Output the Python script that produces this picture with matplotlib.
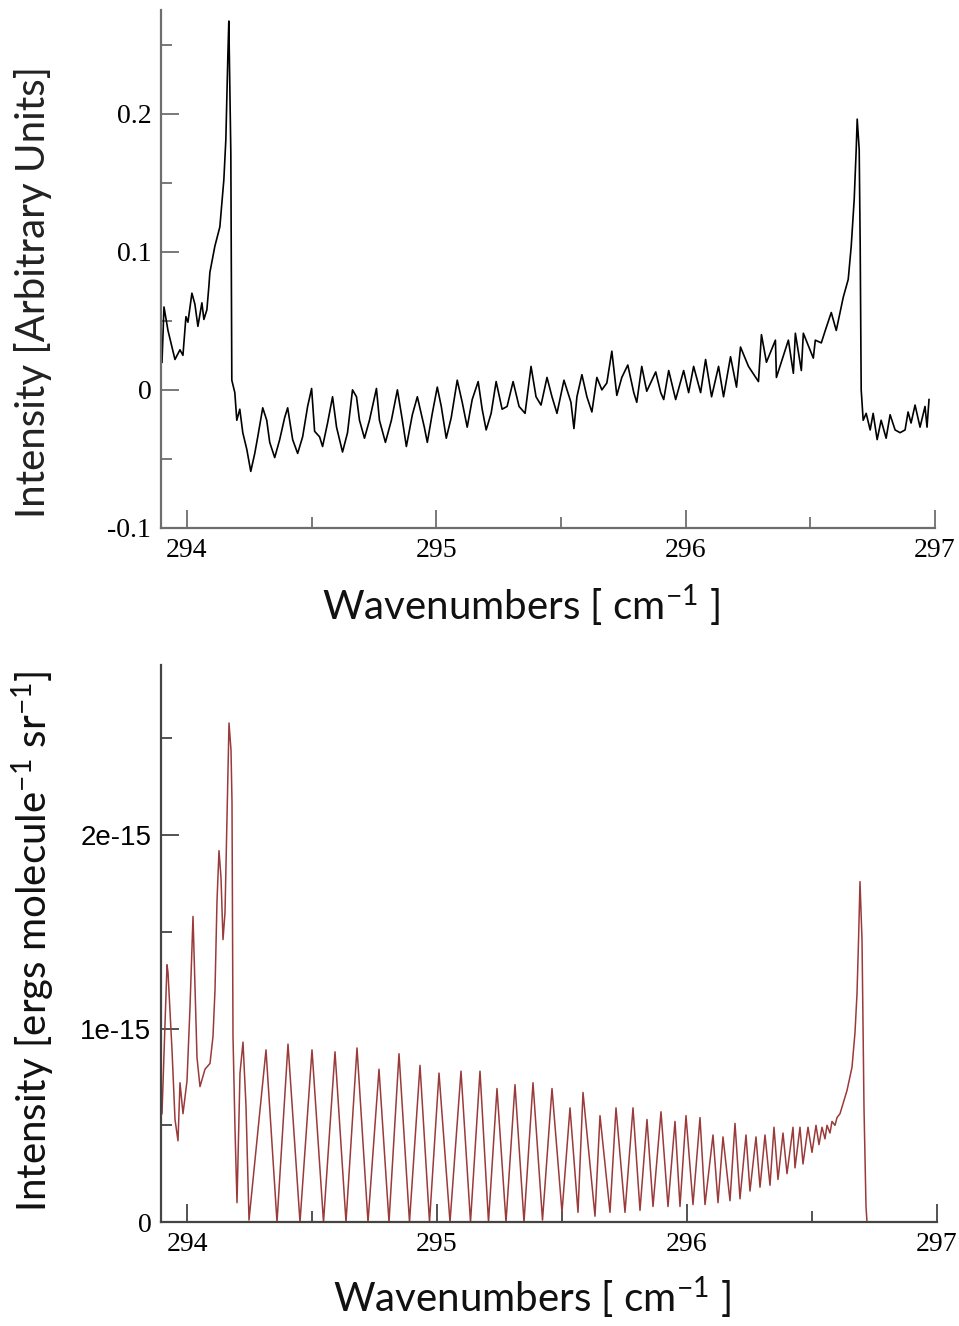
import matplotlib
matplotlib.use("Agg")
import matplotlib.pyplot as plt
from matplotlib.ticker import FixedLocator

# measured spectrum (top panel), wavenumber [cm-1] / intensity [arb. units]
meas_wn = [
    293.900, 293.908, 293.924, 293.940, 293.952, 293.972, 293.984, 293.996, 294.004, 294.020,
    294.032, 294.044, 294.060, 294.068, 294.080, 294.088, 294.092, 294.112, 294.132, 294.148,
    294.156, 294.164, 294.168, 294.176, 294.180, 294.192, 294.200, 294.212, 294.224, 294.240,
    294.256, 294.272, 294.284, 294.304, 294.320, 294.332, 294.352, 294.372, 294.392, 294.404,
    294.424, 294.444, 294.464, 294.484, 294.500, 294.512, 294.532, 294.544, 294.564, 294.584,
    294.600, 294.624, 294.644, 294.664, 294.680, 294.692, 294.712, 294.732, 294.760, 294.772,
    294.796, 294.820, 294.844, 294.864, 294.880, 294.904, 294.924, 294.952, 294.964, 294.984,
    295.004, 295.020, 295.040, 295.060, 295.084, 295.104, 295.124, 295.144, 295.168, 295.184,
    295.200, 295.220, 295.240, 295.264, 295.284, 295.308, 295.332, 295.356, 295.380, 295.400,
    295.420, 295.444, 295.464, 295.484, 295.512, 295.540, 295.552, 295.564, 295.584, 295.604,
    295.624, 295.644, 295.664, 295.684, 295.704, 295.724, 295.744, 295.768, 295.792, 295.804,
    295.824, 295.844, 295.880, 295.900, 295.912, 295.932, 295.960, 295.992, 296.012, 296.032,
    296.060, 296.080, 296.104, 296.132, 296.152, 296.180, 296.204, 296.220, 296.252, 296.292,
    296.304, 296.324, 296.360, 296.364, 296.412, 296.432, 296.440, 296.464, 296.472, 296.512,
    296.520, 296.544, 296.560, 296.584, 296.604, 296.632, 296.652, 296.664, 296.676, 296.684,
    296.688, 296.696, 296.700, 296.704, 296.712, 296.724, 296.740, 296.752, 296.768, 296.784,
    296.804, 296.820, 296.840, 296.860, 296.880, 296.892, 296.904, 296.920, 296.940, 296.960,
    296.968, 296.976,
]
meas_int = [
    0.020, 0.060, 0.043, 0.031, 0.022, 0.029, 0.025, 0.053, 0.049, 0.070,
    0.062, 0.046, 0.063, 0.051, 0.058, 0.075, 0.085, 0.104, 0.118, 0.152,
    0.181, 0.241, 0.267, 0.172, 0.007, -0.002, -0.022, -0.014, -0.031, -0.043,
    -0.059, -0.046, -0.034, -0.013, -0.022, -0.038, -0.049, -0.036, -0.020, -0.013,
    -0.036, -0.046, -0.034, -0.012, 0.001, -0.030, -0.034, -0.041, -0.024, -0.005,
    -0.027, -0.045, -0.031, 0.000, -0.005, -0.022, -0.035, -0.022, 0.001, -0.022,
    -0.038, -0.022, 0.000, -0.022, -0.041, -0.018, -0.005, -0.027, -0.038, -0.017,
    0.002, -0.012, -0.035, -0.020, 0.007, -0.009, -0.027, -0.007, 0.006, -0.014,
    -0.029, -0.017, 0.006, -0.014, -0.012, 0.006, -0.012, -0.017, 0.017, -0.005,
    -0.011, 0.009, -0.005, -0.017, 0.007, -0.009, -0.028, -0.005, 0.011, -0.005,
    -0.016, 0.009, 0.000, 0.005, 0.028, -0.004, 0.009, 0.018, -0.002, -0.009,
    0.017, -0.001, 0.013, -0.002, -0.007, 0.014, -0.007, 0.014, -0.002, 0.017,
    -0.002, 0.022, -0.005, 0.017, -0.005, 0.024, 0.002, 0.031, 0.017, 0.006,
    0.040, 0.020, 0.036, 0.009, 0.036, 0.012, 0.041, 0.014, 0.041, 0.023,
    0.036, 0.034, 0.043, 0.056, 0.043, 0.067, 0.080, 0.104, 0.138, 0.174,
    0.196, 0.174, 0.104, 0.000, -0.022, -0.017, -0.029, -0.017, -0.036, -0.022,
    -0.035, -0.018, -0.029, -0.031, -0.029, -0.016, -0.024, -0.011, -0.027, -0.012,
    -0.027, -0.007,
]

# model spectrum (bottom panel), intensity in units of 1e-15 ergs/molecule/sr
model_wn = [
    293.900, 293.920, 293.924, 293.940, 293.952, 293.964, 293.972, 293.984, 294.000, 294.012,
    294.024, 294.040, 294.052, 294.072, 294.092, 294.104, 294.112, 294.120, 294.128, 294.136,
    294.144, 294.152, 294.160, 294.168, 294.176, 294.180, 294.184, 294.192, 294.200, 294.212,
    294.224, 294.236, 294.248, 294.316, 294.360, 294.404, 294.452, 294.500, 294.546, 294.592,
    294.636, 294.680, 294.724, 294.768, 294.808, 294.848, 294.890, 294.932, 294.970, 295.008,
    295.052, 295.096, 295.134, 295.172, 295.206, 295.240, 295.276, 295.312, 295.348, 295.384,
    295.422, 295.460, 295.500, 295.532, 295.564, 295.584, 295.632, 295.652, 295.692, 295.716,
    295.752, 295.784, 295.812, 295.840, 295.864, 295.896, 295.924, 295.952, 295.972, 295.996,
    296.024, 296.052, 296.072, 296.104, 296.124, 296.144, 296.172, 296.192, 296.212, 296.236,
    296.252, 296.276, 296.292, 296.312, 296.332, 296.348, 296.364, 296.384, 296.400, 296.424,
    296.432, 296.452, 296.464, 296.484, 296.500, 296.516, 296.528, 296.540, 296.552, 296.560,
    296.572, 296.580, 296.592, 296.600, 296.612, 296.640, 296.660, 296.672, 296.680, 296.686,
    296.692, 296.700, 296.708, 296.716, 296.720,
]
model_int = [
    0.56, 1.33, 1.29, 0.89, 0.53, 0.42, 0.72, 0.56, 0.73, 1.11,
    1.58, 0.85, 0.70, 0.79, 0.82, 0.96, 1.20, 1.66, 1.92, 1.78,
    1.46, 1.60, 2.09, 2.58, 2.44, 2.17, 0.96, 0.48, 0.10, 0.77,
    0.93, 0.60, 0.01, 0.89, 0.00, 0.92, 0.00, 0.89, 0.00, 0.88,
    0.00, 0.90, 0.00, 0.79, 0.00, 0.87, 0.00, 0.81, 0.00, 0.77,
    0.00, 0.78, 0.00, 0.78, 0.00, 0.69, 0.00, 0.71, 0.00, 0.72,
    0.01, 0.69, 0.05, 0.59, 0.05, 0.67, 0.03, 0.55, 0.05, 0.59,
    0.05, 0.59, 0.06, 0.53, 0.08, 0.57, 0.08, 0.52, 0.08, 0.55,
    0.09, 0.54, 0.09, 0.45, 0.10, 0.44, 0.11, 0.51, 0.12, 0.45,
    0.16, 0.44, 0.18, 0.45, 0.19, 0.49, 0.22, 0.46, 0.25, 0.49,
    0.28, 0.49, 0.30, 0.49, 0.36, 0.50, 0.40, 0.49, 0.43, 0.50,
    0.46, 0.52, 0.50, 0.54, 0.56, 0.68, 0.80, 0.98, 1.18, 1.45,
    1.76, 1.46, 0.59, 0.08, 0.00,
]

x_major = [294, 295, 296, 297]
x_minor = [294.5, 295.5, 296.5]
x_labels = ["294", "295", "296", "297"]

top_y_major = [-0.1, 0.0, 0.1, 0.2]
top_y_minor = [-0.05, 0.05, 0.15, 0.25]
top_y_labels = ["-0.1", "0", "0.1", "0.2"]

bot_y_major = [0.0, 1e-15, 2e-15]
bot_y_minor = [0.5e-15, 1.5e-15, 2.5e-15]
bot_y_labels = ["0", "1e-15", "2e-15"]

W, H = 959, 1326
SERIF = "Liberation Serif"
SANS = "Liberation Sans"
LABEL = "Lato"


def style_axes(ax, spine_col):
    for s in ("top", "right"):
        ax.spines[s].set_visible(False)
    for s in ("left", "bottom"):
        ax.spines[s].set_color(spine_col)
        ax.spines[s].set_linewidth(1.6)
    ax.tick_params(which="major", direction="in", length=13, width=1.3,
                   color=spine_col, pad=7, labelsize=20)
    ax.tick_params(which="minor", direction="in", length=8, width=1.3,
                   color=spine_col)
    ax.xaxis.set_major_locator(FixedLocator(x_major))
    ax.xaxis.set_minor_locator(FixedLocator(x_minor))
    ax.set_xticklabels(x_labels, fontfamily=SERIF)
    ax.set_xlim(293.896, 297.0)


fig = plt.figure(figsize=(W / 100, H / 100), dpi=100)

# top: measured
ax1 = fig.add_axes([161 / W, 1 - 528 / H, (935 - 161) / W, (528 - 10) / H])
ax1.plot(meas_wn, meas_int, color="black", lw=1.2)
style_axes(ax1, "#6e6e6e")
ax1.set_ylim(-0.1, 0.275)
ax1.yaxis.set_major_locator(FixedLocator(top_y_major))
ax1.yaxis.set_minor_locator(FixedLocator(top_y_minor))
ax1.set_yticklabels(top_y_labels, fontfamily=SERIF)

# bottom: model
ax2 = fig.add_axes([161 / W, 1 - 1222 / H, (937 - 161) / W, (1222 - 665) / H])
ax2.plot(model_wn, [v * 1e-15 for v in model_int], color="#9a3a3a", lw=1.1)
style_axes(ax2, "#444444")
ax2.set_ylim(0, 2.88e-15)
ax2.yaxis.set_major_locator(FixedLocator(bot_y_major))
ax2.yaxis.set_minor_locator(FixedLocator(bot_y_minor))
ax2.set_yticklabels(bot_y_labels, fontfamily=SANS)
ax2.get_yticklabels()[0].set_fontfamily(SERIF)

# axis titles
xl = "Wavenumbers [ cm$\\mathregular{^{-1}}$ ]"
fig.text(521 / W, 1 - 606 / H, xl, ha="center", va="center",
         fontsize=29, family=LABEL, color="#111111")
fig.text(532 / W, 1 - 1298 / H, xl, ha="center", va="center",
         fontsize=29, family=LABEL, color="#111111")
fig.text(33 / W, 1 - 292 / H, "Intensity [Arbitrary Units]", rotation=90,
         ha="center", va="center", fontsize=29, family=LABEL, color="#222222")
fig.text(33 / W, 1 - 941 / H,
         "Intensity [ergs molecule$\\mathregular{^{-1}}$ sr$\\mathregular{^{-1}}$]",
         rotation=90, ha="center", va="center", fontsize=29, family=LABEL,
         color="#111111")

fig.savefig("out.png", dpi=100)
